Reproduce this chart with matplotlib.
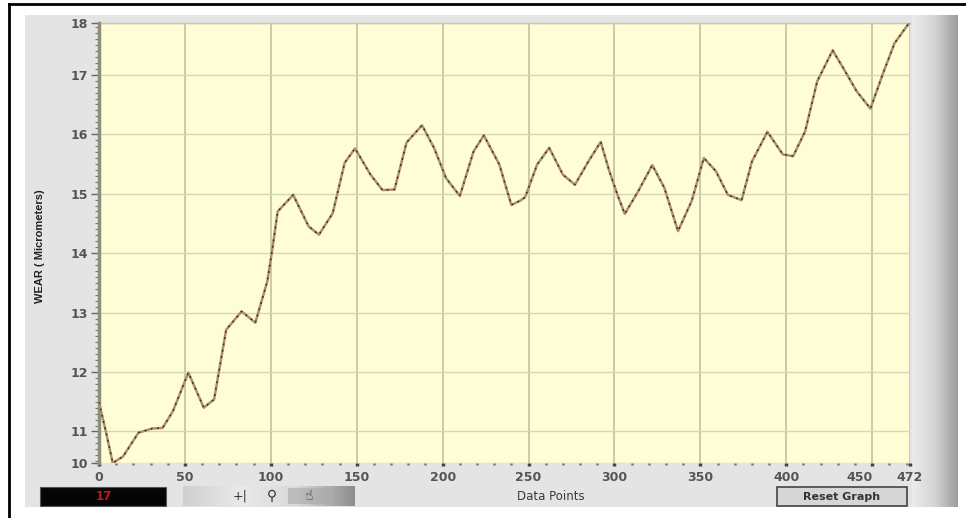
import matplotlib
matplotlib.use("Agg")
import matplotlib.pyplot as plt
from matplotlib.patches import Rectangle
from matplotlib.ticker import MultipleLocator, FixedLocator
import numpy as np

# wear readings (data point index, micrometers)
points = [0, 4, 8, 14, 23, 31, 37, 43, 52, 61, 67, 74, 83, 91, 98, 101, 104,
          113, 122, 128, 136, 143, 149, 158, 165, 172, 179, 188, 195, 202, 210,
          218, 224, 233, 240, 245, 248, 255, 262, 270, 277, 285, 292, 297, 302,
          306, 314, 322, 329, 337, 345, 352, 359, 366, 374, 380, 389, 398, 404,
          411, 418, 427, 433, 441, 449, 456, 463, 471, 472]
wear = [11.49, 11.00, 10.47, 10.58, 10.98, 11.05, 11.06, 11.34, 11.99, 11.40,
        11.54, 12.71, 13.02, 12.83, 13.53, 14.09, 14.70, 14.98, 14.45, 14.31,
        14.67, 15.52, 15.76, 15.32, 15.06, 15.07, 15.86, 16.15, 15.77, 15.26,
        14.96, 15.71, 15.98, 15.49, 14.81, 14.88, 14.94, 15.49, 15.77, 15.32,
        15.15, 15.55, 15.87, 15.38, 14.96, 14.66, 15.05, 15.48, 15.10, 14.37,
        14.88, 15.60, 15.38, 14.98, 14.89, 15.54, 16.04, 15.66, 15.63, 16.05,
        16.89, 17.41, 17.12, 16.72, 16.43, 17.00, 17.53, 17.85, 17.87]
x_ticks = [0, 50, 100, 150, 200, 250, 300, 350, 400, 450, 472]
current_value = "17"

W, H = 966, 518
fig = plt.figure(figsize=(W / 100, H / 100), dpi=100)
fig.patch.set_facecolor("white")

def px(x0, y0, x1, y1):
    # pixel box -> figure fraction (left, bottom, width, height)
    return (x0 / W, 1 - y1 / H, (x1 - x0) / W, (y1 - y0) / H)

# outer frame lines (top and left)
fig.add_artist(plt.Line2D([9 / W, 1], [1 - 4 / H, 1 - 4 / H], color="black", lw=2))
fig.add_artist(plt.Line2D([9 / W, 9 / W], [0, 1 - 4 / H], color="black", lw=2))

# grey graph panel
l, b, w, h = px(25, 15, 958, 507)
fig.add_artist(Rectangle((l, b), w, h, transform=fig.transFigure,
                         facecolor="#e4e4e4", edgecolor="none", zorder=0))

# shaded bar on the right of the panel
gax = fig.add_axes(px(912, 15, 958, 507))
grad = np.linspace(0, 1, 100)[None, :]
gax.imshow(grad, aspect="auto", cmap=matplotlib.colors.LinearSegmentedColormap.from_list(
    "bar", ["#ececec", "#d4d4d4", "#9c9c9c"]), extent=(0, 1, 0, 1))
gax.set_axis_off()

# plot area
ax = fig.add_axes(px(99, 23, 910, 463))
ax.set_facecolor("#fffdd6")
ax.plot(points, wear, color="#ad8f70", lw=1.8, zorder=3)
ax.plot(points, wear, color="#3e2c1e", lw=1.1, ls=(0, (1.2, 3)), zorder=4)

ax.set_xlim(0, 472)
ymin, ymax = min(wear), max(wear)
ax.set_ylim(ymin, ymax)

ax.xaxis.set_major_locator(FixedLocator(x_ticks))
ax.xaxis.set_minor_locator(MultipleLocator(10))
ax.yaxis.set_major_locator(FixedLocator([ymin] + list(range(11, 18)) + [ymax]))
ax.yaxis.set_minor_locator(MultipleLocator(0.1))
ax.set_yticklabels(["%.0f" % v for v in [ymin] + list(range(11, 18)) + [ymax]])

ax.grid(True, which="major", axis="x", color="#bdbd9c", lw=1.1)
ax.grid(True, which="major", axis="y", color="#d6d6b8", lw=1.0)
ax.set_axisbelow(True)

for s in ["top", "right", "bottom"]:
    ax.spines[s].set_visible(False)
ax.spines["left"].set_color("#8d8f78")
ax.spines["left"].set_linewidth(2.5)
ax.plot([0, 472], [ymax, ymax], color="#c9c9b0", lw=1, clip_on=False, zorder=2)

ax.tick_params(axis="y", which="major", length=6, width=1, color="#666666",
               labelsize=9, labelcolor="#555555", pad=2)
ax.tick_params(axis="y", which="minor", length=3, width=0.8, color="#777777")
ax.tick_params(axis="x", which="major", length=2.5, width=2.5, color="#444444",
               labelsize=9, labelcolor="#555555", pad=3)
ax.tick_params(axis="x", which="minor", length=1.5, width=1.8, color="#777777")
for t in ax.get_xticklabels() + ax.get_yticklabels():
    t.set_fontweight("bold")
# keep the last two x labels apart like the original
xl = ax.get_xticklabels()
xl[-2].set_horizontalalignment("right")
xl[-2].set_x(455)

fig.text(40 / W, 1 - 246 / H, "WEAR ( Micrometers)", rotation=90, ha="center",
         va="center", fontsize=8, fontweight="bold", color="#222222",
         family="Liberation Sans")
fig.text(551 / W, 1 - 497 / H, "Data Points", ha="center", va="center",
         fontsize=8.5, color="#3a3a3a")

# digital indicator
l, b, w, h = px(40, 487, 166, 506)
fig.add_artist(Rectangle((l, b), w, h, transform=fig.transFigure,
                         facecolor="#050505", edgecolor="#555555", lw=0.8))
fig.text(104 / W, 1 - 497 / H, current_value, ha="center", va="center",
         fontsize=8.5, fontweight="bold", color="#c01818")

# zoom / pan palette
pal = fig.add_axes(px(183, 486, 355, 506))
pal.imshow(np.linspace(0, 1, 100)[None, :], aspect="auto", extent=(0, 1, 0, 1),
           cmap=matplotlib.colors.LinearSegmentedColormap.from_list(
               "pal", ["#cfcfcf", "#e9e9e9", "#d9d9d9", "#8e8e8e"]))
pal.set_axis_off()
l, b, w, h = px(288, 488, 330, 504)
fig.add_artist(Rectangle((l, b), w, h, transform=fig.transFigure,
                         facecolor="#a9a9a9", edgecolor="none", alpha=0.6))
fig.text(240 / W, 1 - 496 / H, "+|", ha="center", va="center", fontsize=9,
         color="#333333")
fig.text(272 / W, 1 - 496 / H, "⚲", ha="center", va="center", fontsize=10,
         color="#333333", family=["DejaVu Sans"])
fig.text(309 / W, 1 - 496 / H, "☝", ha="center", va="center", fontsize=10,
         color="#333333", family=["DejaVu Sans", "Noto Sans CJK SC"])

# reset button
l, b, w, h = px(777, 487, 907, 506)
fig.add_artist(Rectangle((l, b), w, h, transform=fig.transFigure,
                         facecolor="#d6d6d6", edgecolor="#444444", lw=1.2))
fig.text(842 / W, 1 - 497 / H, "Reset Graph", ha="center", va="center",
         fontsize=8, fontweight="bold", color="#333333")

fig.savefig("out.png", dpi=100)
